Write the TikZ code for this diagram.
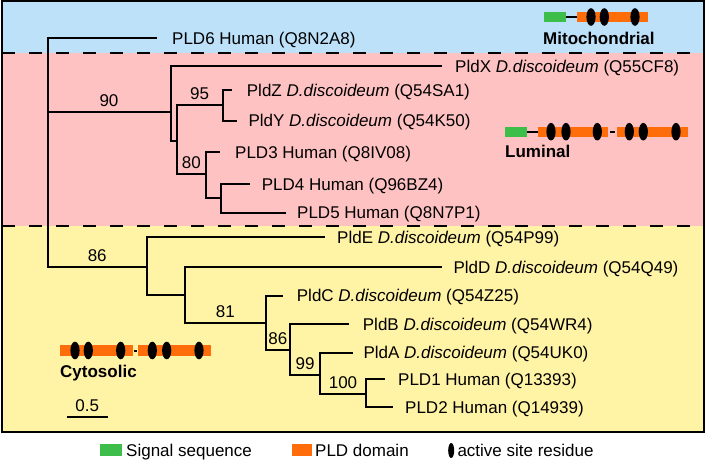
\documentclass[tikz,border=0pt]{standalone}
\usepackage{fontspec}
\setmainfont{Liberation Sans}
\definecolor{bgblue}{RGB}{189,225,249}
\definecolor{bgpink}{RGB}{255,194,194}
\definecolor{bgyellow}{RGB}{255,243,165}
\definecolor{sigGreen}{RGB}{61,190,75}
\definecolor{pldOrange}{RGB}{255,108,10}
\begin{document}
\begin{tikzpicture}[x=1pt,y=-1pt,
  every node/.style={font=\fontsize{17}{20}\selectfont},
  tree/.style={line width=2pt},
  leaf/.style={anchor=west, inner sep=0pt, text height=12.2pt, text depth=0pt},
  boot/.style={pos=0.75, above=4.5pt, inner sep=0pt, text height=12.2pt, text depth=0pt},
  site/.style={fill=black},
  sepline/.style={line width=2.2pt, dash pattern=on 13pt off 14pt}]
\useasboundingbox (0,0) rectangle (709,462);
% backgrounds
\fill[bgblue] (1.5,1.5) rectangle (703.5,53);
\fill[bgpink] (1.5,53) rectangle (703.5,226);
\fill[bgyellow] (1.5,226) rectangle (703.5,432);
\draw[sepline] (2,53) -- (703,53);
\draw[sepline] (2,226) -- (703,226);
\draw[line width=2pt] (1.5,1.5) rectangle (703.5,432);
% tips
\coordinate (tPLD6) at (157,38);
\coordinate (tPldX) at (441.7,66);
\coordinate (tPldZ) at (231.7,90);
\coordinate (tPldY) at (237.3,120.7);
\coordinate (tPLD3) at (220,152.3);
\coordinate (tPLD4) at (249.5,184);
\coordinate (tPLD5) at (285.5,212.7);
\coordinate (tPldE) at (325,237.3);
\coordinate (tPldD) at (441.7,267.3);
\coordinate (tPldC) at (283.3,295.7);
\coordinate (tPldB) at (349.3,324);
\coordinate (tPldA) at (353,352.7);
\coordinate (tPLD1) at (385,379.3);
\coordinate (tPLD2) at (393,407);
% leaf labels
\node[leaf] (lPLD6) at (172,38) {PLD6 Human (Q8N2A8)};
\node[leaf] (lPldX) at (455,66) {PldX \textit{D.discoideum} (Q55CF8)};
\node[leaf] (lPldZ) at (246.7,90) {PldZ \textit{D.discoideum} (Q54SA1)};
\node[leaf] (lPldY) at (248.3,120.7) {PldY \textit{D.discoideum} (Q54K50)};
\node[leaf] (lPLD3) at (235,152.3) {PLD3 Human (Q8IV08)};
\node[leaf] (lPLD4) at (261.7,184) {PLD4 Human (Q96BZ4)};
\node[leaf] (lPLD5) at (297,212.7) {PLD5 Human (Q8N7P1)};
\node[leaf] (lPldE) at (337,237.3) {PldE \textit{D.discoideum} (Q54P99)};
\node[leaf] (lPldD) at (453.3,267.3) {PldD \textit{D.discoideum} (Q54Q49)};
\node[leaf] (lPldC) at (296.7,295.7) {PldC \textit{D.discoideum} (Q54Z25)};
\node[leaf] (lPldB) at (362.7,324) {PldB \textit{D.discoideum} (Q54WR4)};
\node[leaf] (lPldA) at (363.3,352.7) {PldA \textit{D.discoideum} (Q54UK0)};
\node[leaf] (lPLD1) at (398,379.3) {PLD1 Human (Q13393)};
\node[leaf] (lPLD2) at (405,407) {PLD2 Human (Q14939)};
% internal nodes
\coordinate (r) at (47.5,150);
\coordinate (n90) at (170.5,112);
\coordinate (nA) at (176.7,141);
\coordinate (n95) at (222.7,105);
\coordinate (n80) at (206,174);
\coordinate (nB) at (221,198);
\coordinate (n86a) at (147,267);
\coordinate (nC) at (185,295);
\coordinate (n81) at (265.7,323.3);
\coordinate (n86b) at (290,350);
\coordinate (n99) at (320,375);
\coordinate (n100) at (366,394);
% branches
\draw[tree] (r) |- (tPLD6);
\draw[tree] (r) |- node[boot]{90} (n90);
\draw[tree] (r) |- node[boot]{86} (n86a);
\draw[tree] (n90) |- (tPldX);
\draw[tree] (n90) |- (nA);
\draw[tree] (nA) |- node[boot]{95} (n95);
\draw[tree] (nA) |- node[boot]{80} (n80);
\draw[tree] (n95) |- (tPldZ);
\draw[tree] (n95) |- (tPldY);
\draw[tree] (n80) |- (tPLD3);
\draw[tree] (n80) |- (nB);
\draw[tree] (nB) |- (tPLD4);
\draw[tree] (nB) |- (tPLD5);
\draw[tree] (n86a) |- (tPldE);
\draw[tree] (n86a) |- (nC);
\draw[tree] (nC) |- (tPldD);
\draw[tree] (nC) |- node[boot]{81} (n81);
\draw[tree] (n81) |- (tPldC);
\draw[tree] (n81) |- node[boot]{86} (n86b);
\draw[tree] (n86b) |- (tPldB);
\draw[tree] (n86b) |- node[boot]{99} (n99);
\draw[tree] (n99) |- (tPldA);
\draw[tree] (n99) |- node[boot]{100} (n100);
\draw[tree] (n100) |- (tPLD1);
\draw[tree] (n100) |- (tPLD2);
% Mitochondrial domain diagram
\fill[sigGreen] (544.3,11.7) rectangle (566,22.3);
\draw[line width=2pt] (566,17) -- (576.7,17);
\fill[pldOrange] (576.7,11.7) rectangle (648.3,22.3);
\foreach \x in {591,604.3,635} \fill[site] (\x,17) ellipse [x radius=4.6pt, y radius=8.8pt];
\node[leaf, font=\fontsize{17}{20}\selectfont\bfseries] (mito) at (543,38.3) {Mitochondrial};
% Luminal domain diagram
\fill[sigGreen] (505,126.7) rectangle (526.7,136.7);
\draw[line width=2pt] (526.7,131.7) -- (538.3,131.7);
\fill[pldOrange] (538.3,126.7) rectangle (608.3,136.7);
\draw[line width=2pt] (610,131.7) -- (615,131.7);
\fill[pldOrange] (616.7,126.7) rectangle (687.7,136.7);
\foreach \x in {551,566,597.3,629.3,643.3,676} \fill[site] (\x,131.7) ellipse [x radius=4.6pt, y radius=8.8pt];
\node[leaf, font=\fontsize{17}{20}\selectfont\bfseries] (lum) at (505,151.7) {Luminal};
% Cytosolic domain diagram
\fill[pldOrange] (60,345) rectangle (132.7,356);
\draw[line width=2pt] (134.3,350.5) -- (137,350.5);
\fill[pldOrange] (138.3,345) rectangle (210.7,356);
\foreach \x in {75,88.3,120.7,152.3,166.7,199} \fill[site] (\x,350.5) ellipse [x radius=4.6pt, y radius=8.8pt];
\node[leaf, font=\fontsize{17}{20}\selectfont\bfseries] (cyto) at (60,371.7) {Cytosolic};
% scale bar
\draw[line width=2pt] (66.7,416.7) -- (108.3,416.7);
\node[inner sep=0pt, text height=12.2pt, text depth=0pt] (scl) at (87.3,405) {0.5};
% legend
\fill[sigGreen] (100,444.3) rectangle (121.7,455.7);
\node[leaf] (legS) at (126,450) {Signal sequence};
\fill[pldOrange] (292.3,444.3) rectangle (311.7,455.7);
\node[leaf] (legP) at (315,450) {PLD domain};
\fill[site] (451.2,450.5) ellipse [x radius=3pt, y radius=7.5pt];
\node[leaf] (legA) at (457.3,450) {active site residue};
\end{tikzpicture}
\end{document}
